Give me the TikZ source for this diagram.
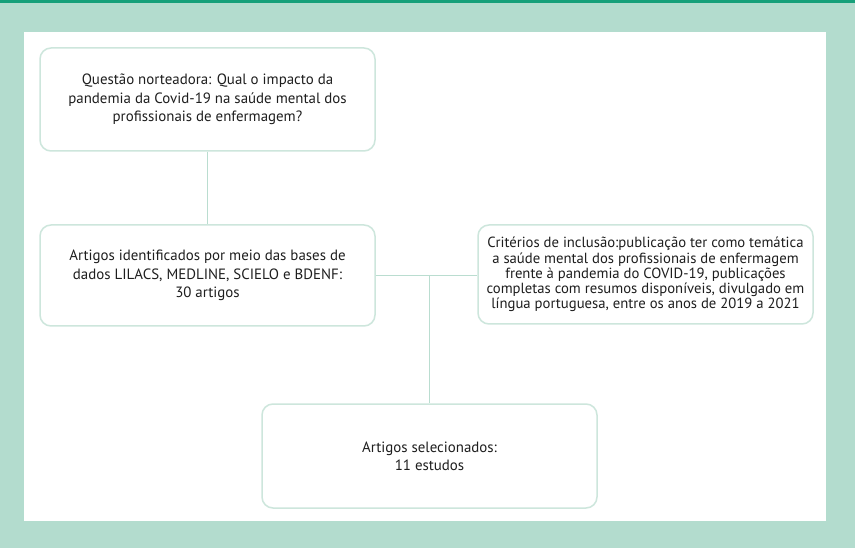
\documentclass[tikz,border=0pt]{standalone}
\usepackage{fontspec}
\setmainfont{PT Sans}
\definecolor{bgl}{HTML}{B3DCCE}
\definecolor{topg}{HTML}{16A07A}
\definecolor{bord}{HTML}{CDE6DC}
\definecolor{conn}{HTML}{BADDD0}
\definecolor{txt}{HTML}{1E1E1E}
\begin{document}
\begin{tikzpicture}[x=1pt,y=-1pt,
  box/.style={draw=bord,line width=1.5pt,rounded corners=11pt,fill=white,align=center,
    text=txt,font=\fontsize{14.9}{18.3}\selectfont,inner sep=0pt},
  link/.style={draw=conn,line width=1.5pt}]
\fill[bgl] (0,0) rectangle (855,548);
\useasboundingbox (0,0) rectangle (855,548);
\fill[topg] (0,0) rectangle (855,3);
\fill[white] (24,32) rectangle (826,521);
\node[box,minimum width=335pt,minimum height=103pt] (q) at (207.5,99.5)
  {Questão norteadora: Qual o impacto da\\pandemia da Covid-19 na saúde mental dos\\profissionais de enfermagem?};
\node[box,minimum width=335pt,minimum height=101pt] (a) at (207.5,275.5)
  {Artigos identificados por meio das bases de\\dados LILACS, MEDLINE, SCIELO e BDENF:\\30 artigos};
\node[box,minimum width=335pt,minimum height=99pt,font=\fontsize{14.7}{15.2}\selectfont] (c) at (645.5,274.5)
  {Critérios de inclusão:publicação ter como temática\\a saúde mental dos profissionais de enfermagem\\frente à pandemia do COVID-19, publicações\\completas com resumos disponíveis, divulgado em\\língua portuguesa, entre os anos de 2019 a 2021};
\node[box,minimum width=335pt,minimum height=104pt] (s) at (429.5,456)
  {Artigos selecionados:\\11 estudos};
\coordinate (j) at (429.5,275.5);
\draw[link] (q.south) -- (a.north);
\draw[link] (a.east) -- (a.east -| c.west);
\draw[link] (j) -- (s.north);
\end{tikzpicture}
\end{document}
